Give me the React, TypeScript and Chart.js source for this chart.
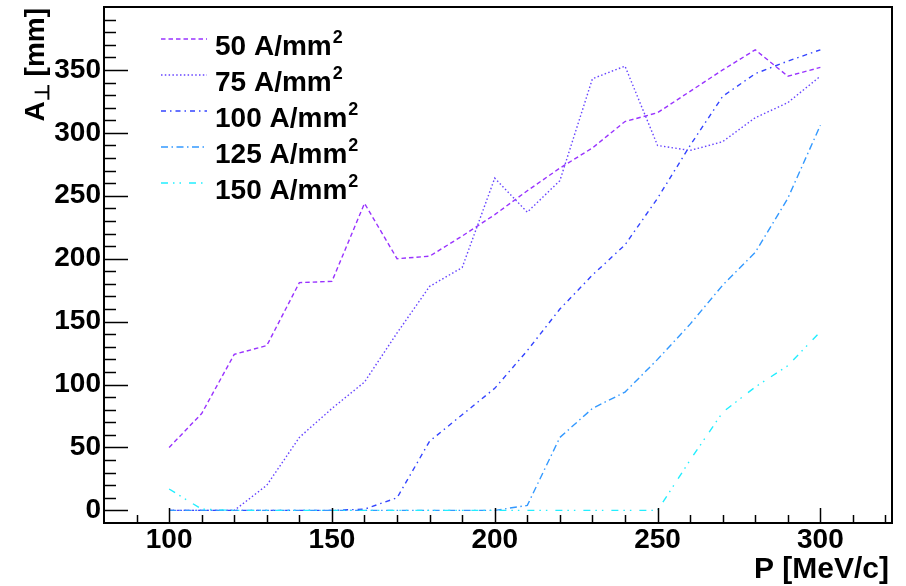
import React, { useEffect, useRef } from 'react';
import { Chart, registerables } from 'chart.js';

Chart.register(...registerables);

// ---- data ----
const momentum = [100, 110, 120, 130, 140, 150, 160, 170, 180, 190, 200, 210, 220, 230, 240, 250, 260, 270, 280, 290, 300];
const a50 = [50, 77, 124, 131, 181, 182, 244, 200, 202, 218, 235, 254, 272, 288, 309, 316, 333, 350, 366, 345, 352];
const a75 = [0, 0, 0, 20, 58, 81, 102, 141, 178, 193, 264, 237, 262, 343, 353, 290, 286, 293, 312, 324, 345];
const a100 = [0, 0, 0, 0, 0, 0, 1, 10, 55, 76, 97, 127, 160, 187, 211, 248, 290, 329, 347, 357, 366];
const a125 = [0, 0, 0, 0, 0, 0, 0, 0, 0, 0, 0, 4, 58, 81, 94, 120, 148, 179, 205, 248, 306];
const a150 = [17, 1, 0, 0, 0, 0, 0, 0, 0, 0, 0, 0, 0, 0, 0, 0, 40, 78, 98, 115, 142];

const seriesNames = ['50 A/mm', '75 A/mm', '100 A/mm', '125 A/mm', '150 A/mm'];
const seriesSup = '2';
const xTickValues = [100, 150, 200, 250, 300];
const yTickValues = [0, 50, 100, 150, 200, 250, 300, 350];
const xTitle = 'P [MeV/c]';
const yTitleMain = 'A';
const yTitleSub = '⊥';
const yTitleRest = ' [mm]';

// ---- styles ----
const FONT = '"Liberation Sans", Arial, Helvetica, sans-serif';
const colors = ['#9933ff', '#6644ff', '#3344ff', '#3399ff', '#22eeff'];
const dashes = [
  [4.5, 3],
  [1.5, 2.3],
  [5, 4, 1.5, 4],
  [7, 3.5, 1.5, 3.5],
  [7, 5, 1.5, 5, 1.5, 8],
];

const rootStyle = {
  id: 'rootStyle',
  afterDraw(chart: any) {
    const { ctx, chartArea: a, scales } = chart;
    const xs = scales.x;
    const ys = scales.y;
    ctx.save();
    ctx.strokeStyle = '#000';
    ctx.lineWidth = 1.5;
    ctx.setLineDash([]);
    // x ticks (inside, from bottom)
    for (let v = 90; v <= 320; v += 10) {
      const px = Math.round(xs.getPixelForValue(v)) + 0.5;
      const len = v % 50 === 0 ? 15 : 8;
      ctx.beginPath();
      ctx.moveTo(px, a.bottom);
      ctx.lineTo(px, a.bottom - len);
      ctx.stroke();
    }
    // y ticks (inside, from left)
    for (let v = 0; v <= 390; v += 10) {
      const py = Math.round(ys.getPixelForValue(v)) + 0.5;
      const len = v % 50 === 0 ? 24 : 12;
      ctx.beginPath();
      ctx.moveTo(a.left, py);
      ctx.lineTo(a.left + len, py);
      ctx.stroke();
    }
    // frame
    ctx.lineWidth = 2;
    ctx.strokeRect(a.left, a.top, a.right - a.left, a.bottom - a.top);

    // legend
    const lx0 = a.left + 57;
    const lx1 = a.left + 103;
    const tx = a.left + 111;
    chart.data.datasets.forEach((ds: any, i: number) => {
      const ly = a.top + 32 + i * 36;
      ctx.strokeStyle = ds.borderColor;
      ctx.lineWidth = 1.5;
      ctx.setLineDash(ds.borderDash || []);
      ctx.beginPath();
      ctx.moveTo(lx0, ly);
      ctx.lineTo(lx1, ly);
      ctx.stroke();
      ctx.setLineDash([]);
      ctx.fillStyle = '#000';
      ctx.textBaseline = 'alphabetic';
      ctx.textAlign = 'left';
      ctx.font = `bold 28px ${FONT}`;
      const base = a.top + 48 + i * 36;
      ctx.fillText(seriesNames[i], tx, base);
      const w = ctx.measureText(seriesNames[i]).width;
      ctx.font = `bold 18px ${FONT}`;
      ctx.fillText(seriesSup, tx + w + 1, base - 12);
    });

    // x title
    ctx.fillStyle = '#000';
    ctx.font = `bold 30px ${FONT}`;
    ctx.textAlign = 'right';
    ctx.textBaseline = 'alphabetic';
    ctx.fillText(xTitle, a.right - 3, 578);

    // y title (rotated)
    ctx.save();
    ctx.translate(44, a.top + 1);
    ctx.rotate(-Math.PI / 2);
    ctx.textAlign = 'left';
    ctx.font = `bold 28px ${FONT}`;
    const wMain = ctx.measureText(yTitleMain).width;
    const wRest = ctx.measureText(yTitleRest).width;
    ctx.font = `bold 20px ${FONT}`;
    const wSub = ctx.measureText(yTitleSub).width;
    const total = wMain + wSub + wRest;
    let x = -total;
    ctx.font = `bold 28px ${FONT}`;
    ctx.fillText(yTitleMain, x, 0);
    x += wMain;
    ctx.font = `bold 20px ${FONT}`;
    ctx.fillText(yTitleSub, x, 5);
    x += wSub;
    ctx.font = `bold 28px ${FONT}`;
    ctx.fillText(yTitleRest, x, 0);
    ctx.restore();

    ctx.restore();
  },
};

export default function App() {
  const ref = useRef<HTMLCanvasElement | null>(null);

  useEffect(() => {
    document.body.style.margin = '0';
    const canvas = ref.current;
    if (!canvas) return;
    const series = [a50, a75, a100, a125, a150];
    const chart = new Chart(canvas, {
      type: 'line',
      data: {
        datasets: series.map((vals, i) => ({
          label: seriesNames[i] + seriesSup,
          data: momentum.map((p, j) => ({ x: p, y: vals[j] })),
          borderColor: colors[i],
          backgroundColor: colors[i],
          borderWidth: 1.4,
          borderDash: dashes[i],
          pointRadius: 0,
          tension: 0,
          fill: false,
          order: 5 - i,
        })),
      },
      options: {
        animation: false,
        responsive: false,
        maintainAspectRatio: false,
        layout: { padding: { top: 7, right: 14, left: 0, bottom: 0 } },
        plugins: { legend: { display: false }, tooltip: { enabled: false } },
        scales: {
          x: {
            type: 'linear',
            min: 80,
            max: 322,
            grid: { display: false, drawTicks: false },
            border: { display: false },
            afterBuildTicks: (s: any) => {
              s.ticks = xTickValues.map((v) => ({ value: v }));
            },
            afterFit: (s: any) => {
              s.height = 63;
              s.paddingLeft = 0;
              s.paddingRight = 0;
            },
            ticks: {
              color: '#000',
              font: { family: FONT, size: 28, weight: 'bold' },
              padding: 0,
              maxRotation: 0,
              autoSkip: false,
            },
          },
          y: {
            type: 'linear',
            min: -10,
            max: 400,
            grid: { display: false, drawTicks: false },
            border: { display: false },
            afterBuildTicks: (s: any) => {
              s.ticks = yTickValues.map((v) => ({ value: v }));
            },
            afterFit: (s: any) => {
              s.width = 104;
              s.paddingTop = 0;
              s.paddingBottom = 0;
            },
            ticks: {
              color: '#000',
              font: { family: FONT, size: 28, weight: 'bold' },
              padding: 3,
              autoSkip: false,
            },
          },
        },
      },
      plugins: [rootStyle],
    });
    return () => chart.destroy();
  }, []);

  return (
    <div style={{ width: 906, height: 586 }}>
      <canvas ref={ref} width={906} height={586} style={{ display: 'block' }} />
    </div>
  );
}
